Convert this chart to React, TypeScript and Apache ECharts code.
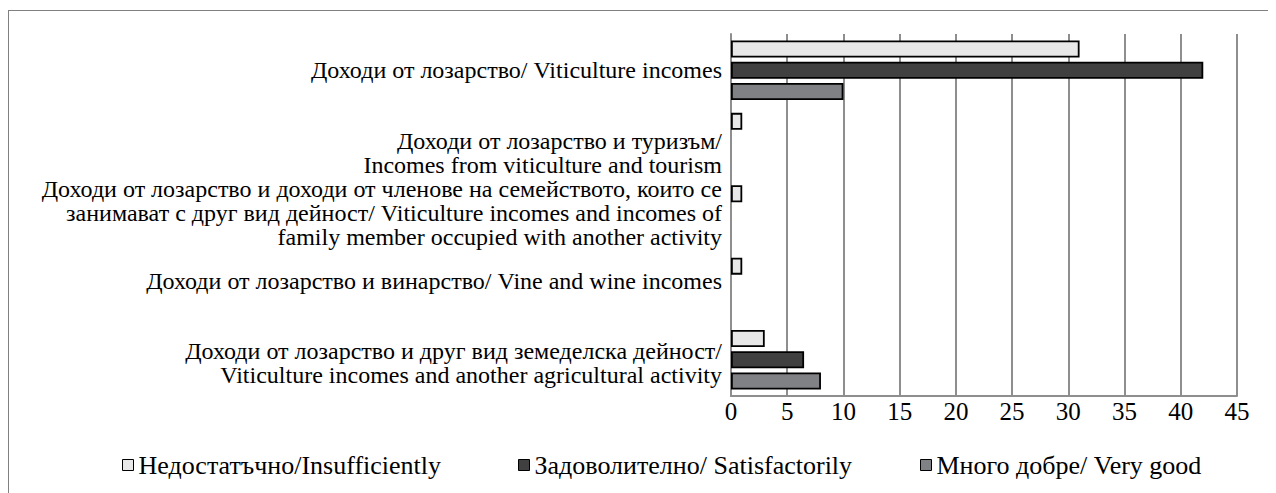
import React, { useEffect, useRef } from "react";
import * as echarts from "echarts";

const categories = [
  "Доходи от лозарство/ Viticulture incomes",
  "Доходи от лозарство и туризъм/\nIncomes from viticulture and tourism",
  "Доходи от лозарство и доходи от членове на семейството, които се\nзанимават с друг вид дейност/ Viticulture incomes and incomes of\nfamily member occupied with another activity",
  "Доходи от лозарство и винарство/ Vine and wine incomes",
  "Доходи от лозарство и друг вид земеделска дейност/\nViticulture incomes and another agricultural activity",
];
const seriesNames = [
  "Недостатъчно/Insufficiently",
  "Задоволително/ Satisfactorily",
  "Много добре/ Very good",
];
const insufficient = [31, 1, 1, 1, 3];
const satisfactory = [42, 0, 0, 0, 6.5];
const veryGood = [10, 0, 0, 0, 8];
const xTicks = { min: 0, max: 45, interval: 5 };

// styling (vertical nudges of category labels, px; + = down)
const labelShift = [0, 10, -2, -6, 3];
const colors = ["#e7e8e7", "#404040", "#808184"];
const FONT = "Times New Roman, Liberation Serif, serif";
const LABEL_SIZE = 24;
const LINE_H = 24;

export default function App() {
  const ref = useRef<HTMLDivElement>(null);
  useEffect(() => {
    if (!ref.current) return;
    const chart = echarts.init(ref.current, null, { renderer: "svg" });
    const values = [insufficient, satisfactory, veryGood];
    const legendLefts = [113, 509, 911];
    const rich: Record<string, any> = {
      t: {
        fontFamily: FONT,
        fontSize: LABEL_SIZE,
        lineHeight: LINE_H,
        color: "#000",
        align: "right",
      },
    };
    labelShift.forEach((d, i) => {
      rich["g" + i] = {
        fontSize: 1,
        lineHeight: Math.max(1, 2 * Math.abs(d)),
        align: "right",
      };
    });
    chart.setOption({
      animation: false,
      textStyle: { fontFamily: FONT, color: "#000" },
      grid: { left: 722, top: 23, width: 506, height: 362, containLabel: false },
      legend: seriesNames.map((n, i) => ({
        data: [n],
        left: legendLefts[i],
        top: 441,
        padding: 0,
        icon: "rect",
        itemWidth: 11,
        itemHeight: 11,
        itemStyle: { borderColor: "#000", borderWidth: 1 },
        textStyle: { fontFamily: FONT, fontSize: 26, color: "#000" },
        selectedMode: false,
      })),
      xAxis: {
        type: "value",
        min: xTicks.min,
        max: xTicks.max,
        interval: xTicks.interval,
        axisLine: { show: true, lineStyle: { color: "#8e8e8e", width: 2 } },
        axisTick: { show: false },
        splitLine: { show: true, lineStyle: { color: "#8e8e8e", width: 2 } },
        axisLabel: { fontFamily: FONT, fontSize: 25, color: "#000", margin: 3 },
      },
      yAxis: {
        type: "category",
        inverse: true,
        data: categories,
        axisLine: { show: true, lineStyle: { color: "#8e8e8e", width: 2 } },
        axisTick: { show: false },
        axisLabel: {
          fontFamily: FONT,
          fontSize: LABEL_SIZE,
          color: "#000",
          margin: 9,
          lineHeight: LINE_H,
          align: "right",
          rich,
          formatter: (value: string, index: number) => {
            const lines = value.split("\n").map((l) => `{t|${l}}`);
            const d = labelShift[index] || 0;
            if (d > 0) lines.unshift(`{g${index}| }`);
            if (d < 0) lines.push(`{g${index}| }`);
            return lines.join("\n");
          },
        },
      },
      series: values.map((arr, i) => ({
        type: "bar",
        name: seriesNames[i],
        data: arr.map((v) => (v === 0 ? null : v)),
        barWidth: 17,
        barGap: "25%",
        itemStyle: { color: colors[i], borderColor: "#000", borderWidth: 1.8 },
      })),
    });
    return () => chart.dispose();
  }, []);
  return (
    <div
      style={{
        marginTop: 2,
        width: 1263,
        height: 490,
        border: "1px solid #808080",
        boxSizing: "border-box",
      }}
    >
      <div ref={ref} style={{ width: 1261, height: 488 }} />
    </div>
  );
}
